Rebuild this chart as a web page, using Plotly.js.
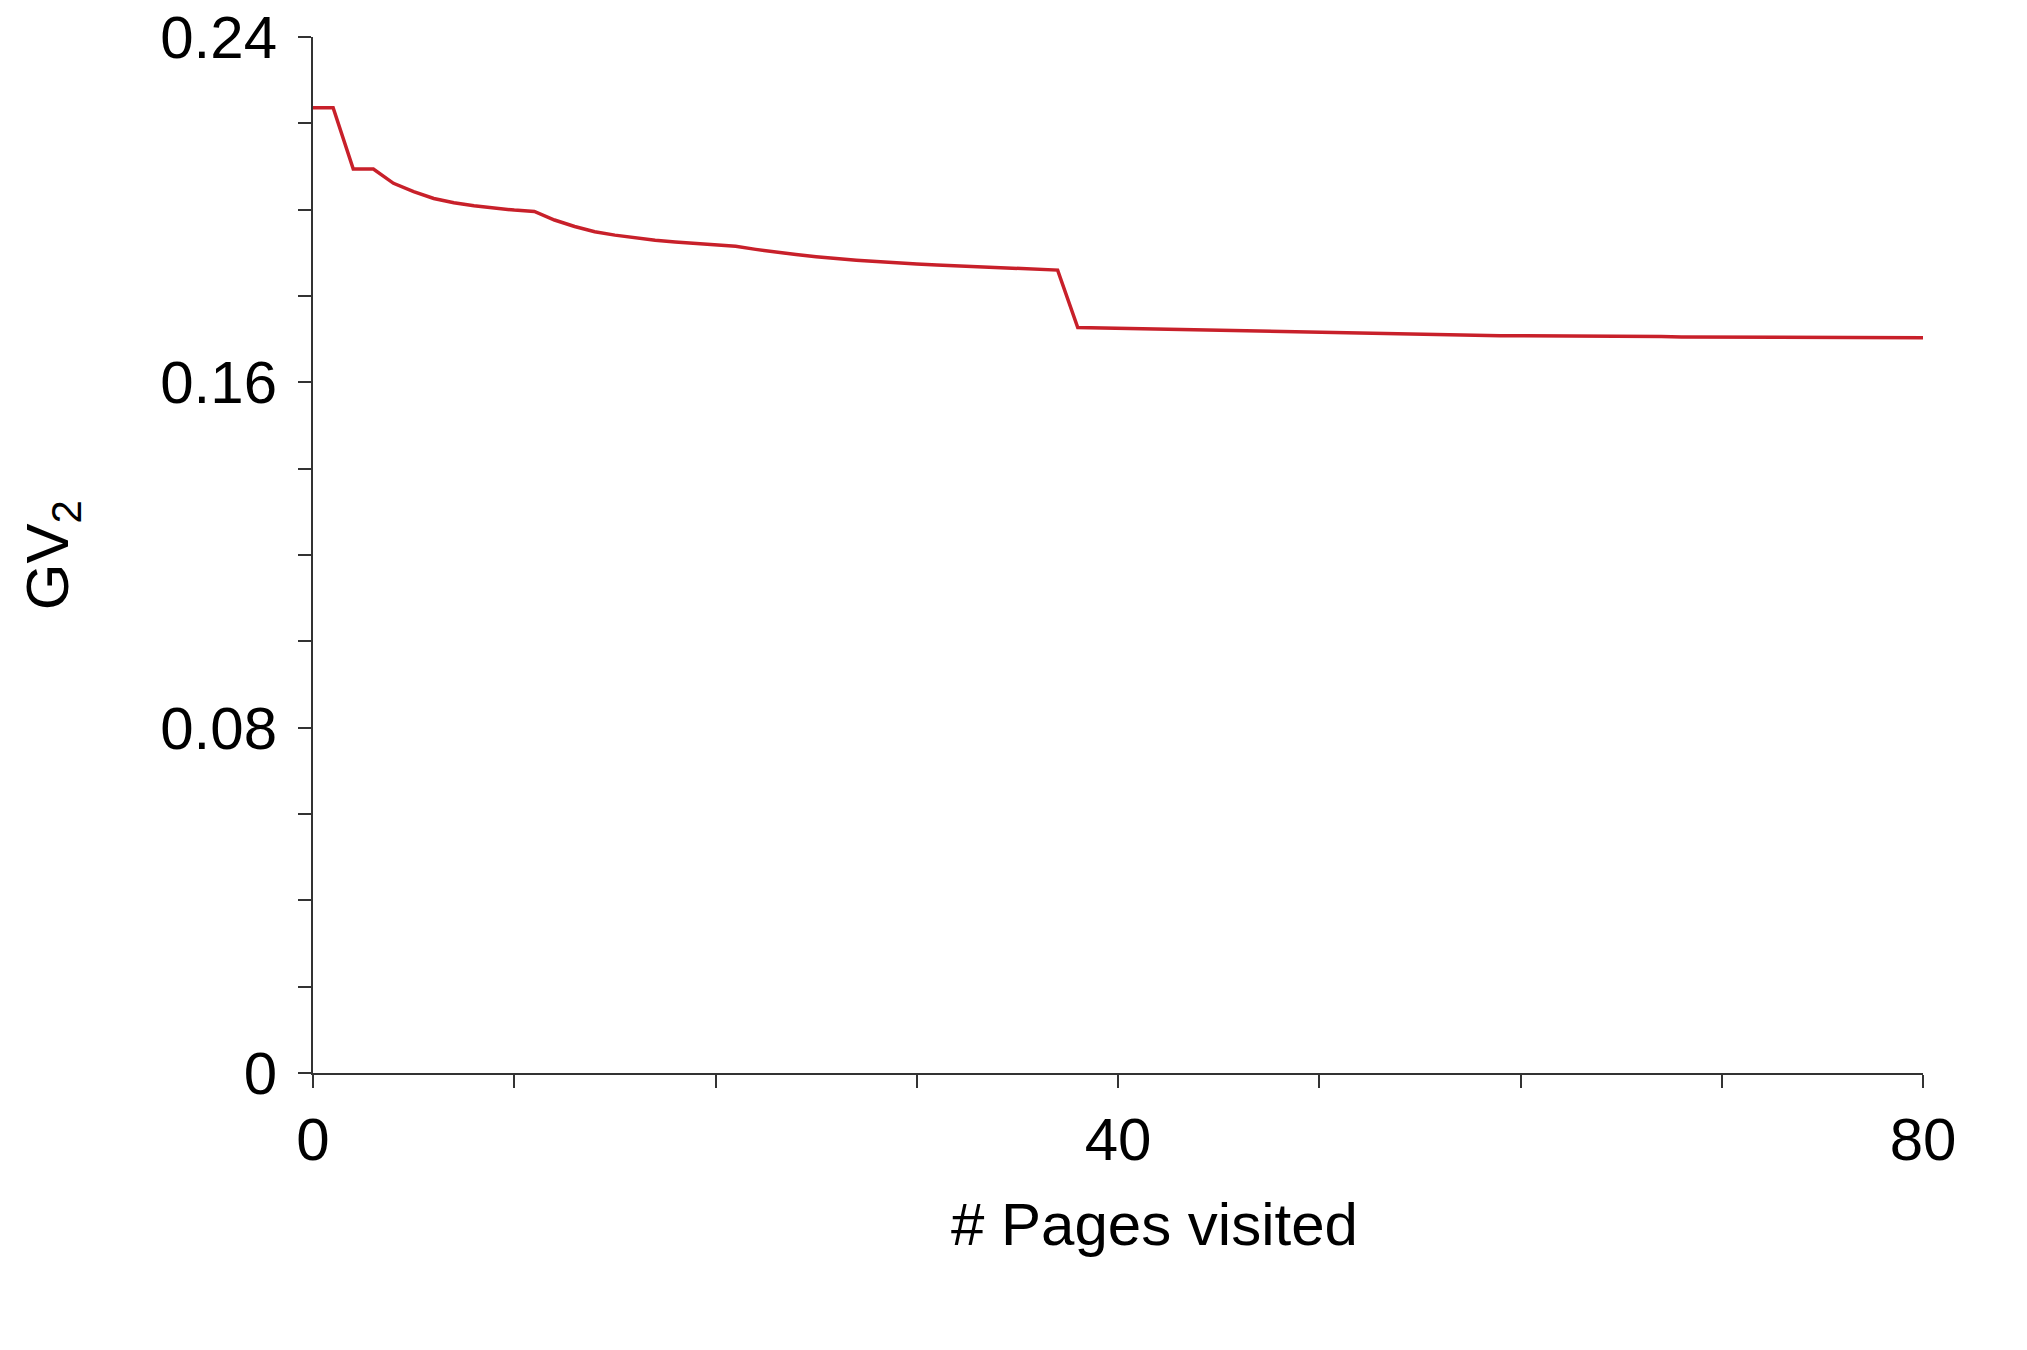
<!DOCTYPE html>
<html>
<head>
<meta charset="utf-8">
<script src="https://cdn.plot.ly/plotly-3.0.1.min.js"></script>
<style>html,body{margin:0;padding:0;background:#fff;}#chart{width:2027px;height:1350px;}</style>
</head>
<body>
<div id="chart"></div>
<script>
// Data
const pages = [0,1,2,3,4,5,6,7,8,9,10,11,12,13,14,15,16,17,18,19,20,21,22,23,24,25,26,27,28,29,30,31,32,33,34,35,36,37,38,39,40,41,42,43,44,45,46,47,48,49,50,51,52,53,54,55,56,57,58,59,60,61,62,63,64,65,66,67,68,69,70,71,72,73,74,75,76,77,78,79,80];
const gv2 = [0.2236,0.2236,0.2094,0.2094,0.2061,0.2042,0.2026,0.2016,0.2009,0.2003,0.1999,0.1996,0.1976,0.1961,0.1949,0.1941,0.1934,0.1929,0.1925,0.1921,0.1918,0.1915,0.1908,0.1901,0.1896,0.1891,0.1886,0.1883,0.1880,0.1876,0.1874,0.1872,0.1870,0.1867,0.1866,0.1864,0.1863,0.1860,0.1727,0.1726,0.1725,0.1724,0.1723,0.1722,0.1721,0.1720,0.1719,0.1718,0.1717,0.1716,0.1715,0.1714,0.1713,0.1713,0.1712,0.1711,0.1710,0.1710,0.1709,0.1708,0.1708,0.1708,0.1707,0.1707,0.1707,0.1706,0.1706,0.1706,0.1705,0.1705,0.1705,0.1705,0.1704,0.1704,0.1704,0.1704,0.1703,0.1703,0.1703,0.1703,0.1703];
const xTickVals = [0,10,20,30,40,50,60,70,80];
const xTickText = ['0','','','','40','','','','80'];
const yTickVals = [0,0.02,0.04,0.06,0.08,0.10,0.12,0.14,0.16,0.18,0.20,0.22,0.24];
const yTickText = ['0','','','','0.08','','','','0.16','','','','0.24'];
const xTitle = '# Pages visited';
const yTitle = 'GV<sub>2</sub>';

const font = 'Liberation Sans, Arial, Helvetica, sans-serif';
const axisColor = '#333333';

const trace = {
  x: pages, y: gv2, type: 'scatter', mode: 'lines',
  line: {color: '#c8202a', width: 3.5},
  hoverinfo: 'skip'
};

const layout = {
  width: 2027, height: 1350,
  paper_bgcolor: '#ffffff', plot_bgcolor: '#ffffff',
  margin: {l: 313, r: 104, t: 37, b: 277},
  showlegend: false,
  font: {family: font, color: '#000', size: 60},
  xaxis: {
    range: [0, 80], showgrid: false, zeroline: false,
    showline: true, linecolor: axisColor, linewidth: 2,
    ticks: 'outside', ticklen: 13, tickwidth: 2, tickcolor: axisColor,
    tickmode: 'array', tickvals: xTickVals, ticktext: xTickText,
    tickfont: {family: font, size: 60, color: '#000'},
    ticklabelstandoff: 0
  },
  yaxis: {
    range: [0, 0.24], showgrid: false, zeroline: false,
    showline: true, linecolor: axisColor, linewidth: 2,
    ticks: 'outside', ticklen: 13, tickwidth: 2, tickcolor: axisColor,
    tickmode: 'array', tickvals: yTickVals, ticktext: yTickText,
    tickfont: {family: font, size: 60, color: '#000'},
    ticklabelstandoff: 9
  },
  shapes: [
    {type: 'line', xref: 'paper', yref: 'paper', x0: -0.0075, x1: 0, y0: 0, y1: 0, line: {color: axisColor, width: 2}},
    {type: 'line', xref: 'paper', yref: 'paper', x0: 0, x1: 0, y0: -0.0106, y1: 0, line: {color: axisColor, width: 2}}
  ],
  annotations: [
    {text: xTitle, xref: 'paper', yref: 'paper', x: 0.5224, y: -0.1467, xanchor: 'center', yanchor: 'middle', showarrow: false, font: {family: font, size: 60, color: '#000'}},
    {text: yTitle, xref: 'paper', yref: 'paper', x: -0.162, y: 0.5, xanchor: 'center', yanchor: 'middle', textangle: -90, showarrow: false, font: {family: font, size: 60, color: '#000'}}
  ]
};

Plotly.newPlot('chart', [trace], layout, {staticPlot: true, displayModeBar: false});
</script>
</body>
</html>
